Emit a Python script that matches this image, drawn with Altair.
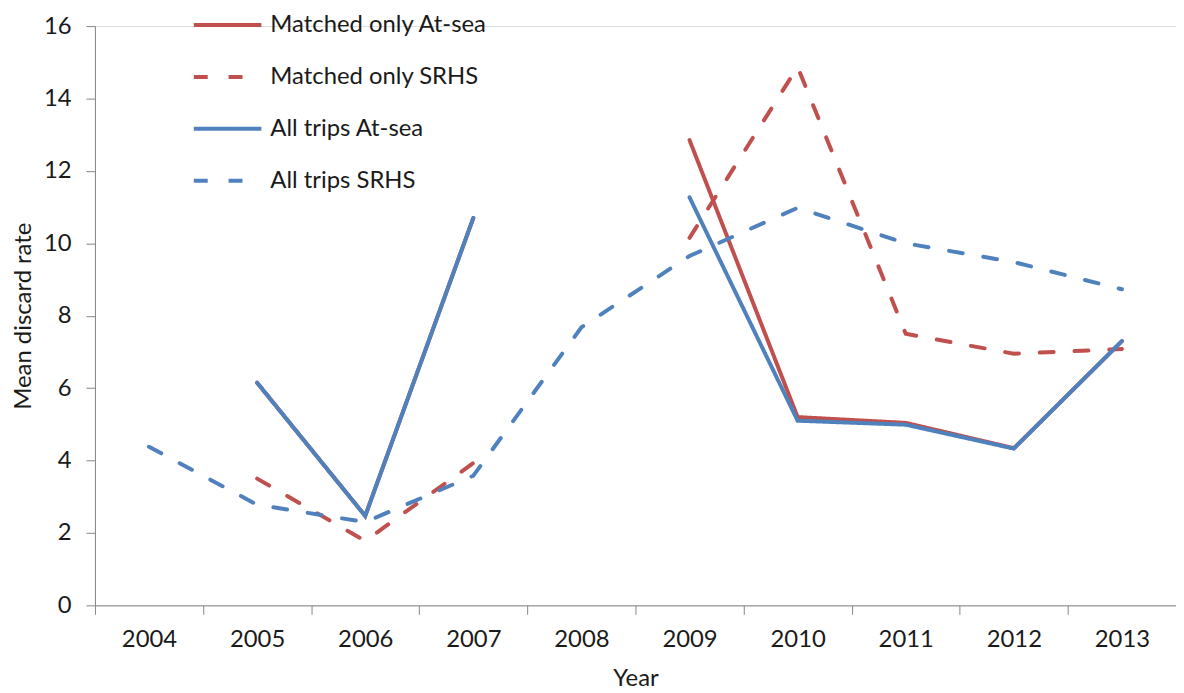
import altair as alt
import pandas as pd

years = [2004, 2005, 2006, 2007, 2008, 2009, 2010, 2011, 2012, 2013]
series_names = ["Matched only At-sea", "Matched only SRHS", "All trips At-sea", "All trips SRHS"]
matched_atsea = [None, 6.15, 2.47, 10.7, None, 12.85, 5.2, 5.04, 4.34, 7.3]
matched_srhs = [None, 3.5, 1.78, 3.93, None, 10.15, 14.87, 7.5, 6.95, 7.08]
all_atsea = [None, 6.15, 2.47, 10.7, None, 11.27, 5.1, 4.99, 4.33, 7.3]
all_srhs = [4.38, 2.78, 2.3, 3.58, 7.68, 9.65, 10.98, 10.0, 9.48, 8.73]
series_colors = ["#C0504D", "#C0504D", "#4F81BD", "#4F81BD"]
series_dashes = [[1, 0], [14, 21], [1, 0], [14, 21]]
y_ticks = [0, 2, 4, 6, 8, 10, 12, 14, 16]

year_labels = [str(y) for y in years]
rows = []
for name, vals in zip(series_names, [matched_atsea, matched_srhs, all_atsea, all_srhs]):
    seg = 0
    for y, v in zip(year_labels, vals):
        if v is None:
            seg += 1
            continue
        rows.append({"year": y, "value": v, "series": name, "seg": f"{name}-{seg}"})
df = pd.DataFrame(rows)

FONT = "Lato"
AX = "#868686"
TXT = "#1a1a1a"
FS = 24

legend = alt.Legend(
    title=None, orient="none", legendX=114.5, legendY=-20,
    symbolType="M-2,0H2", symbolSize=1156, symbolStrokeWidth=4,
    rowPadding=21.2, labelFont=FONT, labelFontSize=FS, labelColor=TXT,
    labelOffset=24, labelLimit=0, padding=0,
)

chart = alt.Chart(df).mark_line(strokeWidth=4, strokeCap="round").encode(
    x=alt.X(
        "year:O", sort=year_labels, bandPosition=0.5,
        scale=alt.Scale(type="band", domain=year_labels, paddingInner=0, paddingOuter=0),
        axis=alt.Axis(
            title="Year", tickBand="extent", tickSize=9, tickColor=AX, domainColor=AX,
            labelFont=FONT, labelFontSize=FS, labelColor=TXT, labelPadding=13, labelAngle=0,
            titleFont=FONT, titleFontSize=FS, titleFontWeight="normal", titleColor=TXT,
            titlePadding=16, grid=False,
        ),
    ),
    y=alt.Y(
        "value:Q", scale=alt.Scale(domain=[0, 16], nice=False),
        axis=alt.Axis(
            title="Mean discard rate", values=y_ticks, tickSize=9, tickColor=AX, domainColor=AX,
            labelFont=FONT, labelFontSize=FS, labelColor=TXT, labelPadding=15,
            titleFont=FONT, titleFontSize=FS, titleFontWeight="normal", titleColor=TXT,
            titlePadding=8, grid=False,
        ),
    ),
    color=alt.Color("series:N", scale=alt.Scale(domain=series_names, range=series_colors), legend=legend),
    strokeDash=alt.StrokeDash("series:N", scale=alt.Scale(domain=series_names, range=series_dashes), legend=legend),
    detail="seg:N",
).properties(
    width=1088, height=583,
    autosize=alt.AutoSizeParams(type="none"),
    padding={"left": 87.5, "top": 16, "right": 0, "bottom": 85},
).configure_view(stroke=None).configure(font=FONT)

chart.save("out.html", embed_options={"renderer": "svg", "actions": False})
